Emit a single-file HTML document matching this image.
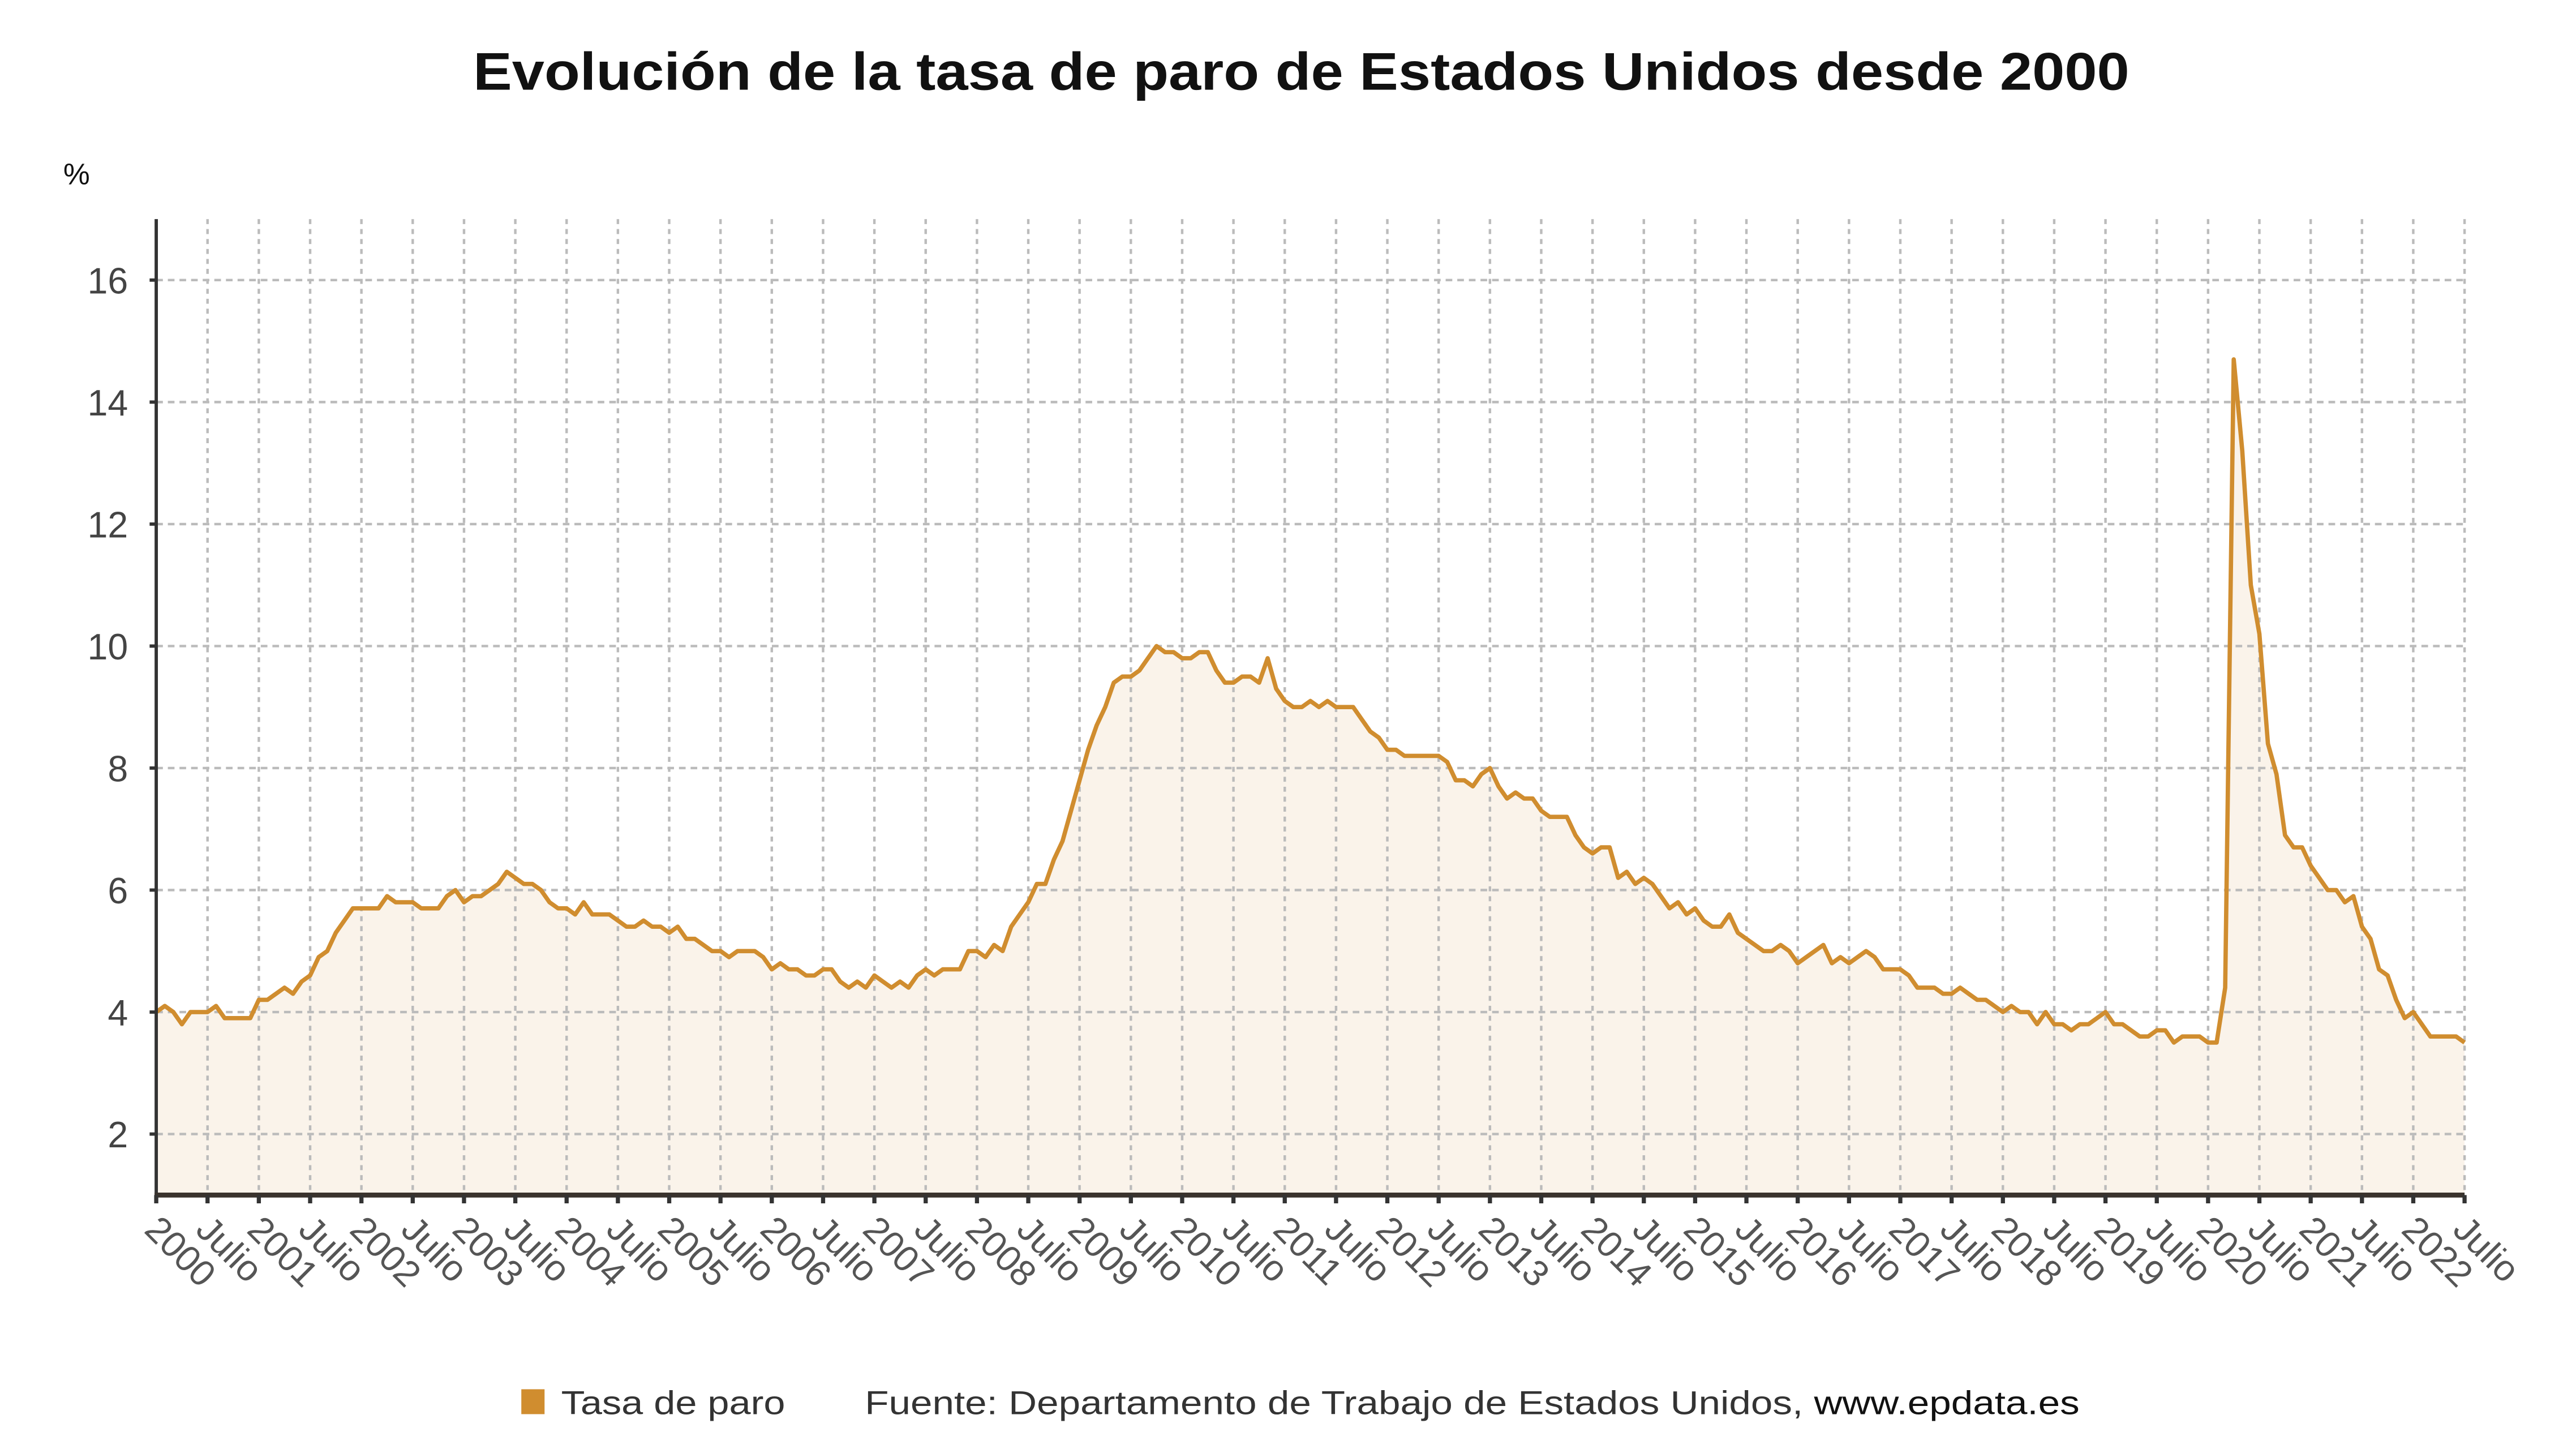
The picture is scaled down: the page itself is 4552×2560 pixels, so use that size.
<!DOCTYPE html>
<html><head><meta charset="utf-8"><style>
html,body{margin:0;padding:0;background:#fff;}
svg{display:block;}
</style></head><body>
<svg id="c" width="4552" height="2560" viewBox="0 0 1552 873" xmlns="http://www.w3.org/2000/svg" font-family="Liberation Sans, DejaVu Sans, sans-serif">
<rect width="1552" height="873" fill="#fff"/>
<text x="784" y="54" text-anchor="middle" font-size="32" font-weight="bold" fill="#111" textLength="998" lengthAdjust="spacingAndGlyphs">Evolución de la tasa de paro de Estados Unidos desde 2000</text>
<text x="38" y="111" font-size="18" fill="#111">%</text>
<g id="plot"></g>
<rect x="314" y="837" width="14" height="15" fill="#d08d2f"/>
<text x="338" y="852" font-size="20" fill="#333" textLength="135" lengthAdjust="spacingAndGlyphs">Tasa de paro</text>
<text x="521" y="852" font-size="20" fill="#333" textLength="732" lengthAdjust="spacingAndGlyphs">Fuente: Departamento de Trabajo de Estados Unidos, <tspan fill="#111">www.epdata.es</tspan></text>
</svg>
<script>
var d=[4.0,4.1,4.0,3.8,4.0,4.0,4.0,4.1,3.9,3.9,3.9,3.9,
4.2,4.2,4.3,4.4,4.3,4.5,4.6,4.9,5.0,5.3,5.5,5.7,
5.7,5.7,5.7,5.9,5.8,5.8,5.8,5.7,5.7,5.7,5.9,6.0,
5.8,5.9,5.9,6.0,6.1,6.3,6.2,6.1,6.1,6.0,5.8,5.7,
5.7,5.6,5.8,5.6,5.6,5.6,5.5,5.4,5.4,5.5,5.4,5.4,
5.3,5.4,5.2,5.2,5.1,5.0,5.0,4.9,5.0,5.0,5.0,4.9,
4.7,4.8,4.7,4.7,4.6,4.6,4.7,4.7,4.5,4.4,4.5,4.4,
4.6,4.5,4.4,4.5,4.4,4.6,4.7,4.6,4.7,4.7,4.7,5.0,
5.0,4.9,5.1,5.0,5.4,5.6,5.8,6.1,6.1,6.5,6.8,7.3,
7.8,8.3,8.7,9.0,9.4,9.5,9.5,9.6,9.8,10.0,9.9,9.9,
9.8,9.8,9.9,9.9,9.6,9.4,9.4,9.5,9.5,9.4,9.8,9.3,
9.1,9.0,9.0,9.1,9.0,9.1,9.0,9.0,9.0,8.8,8.6,8.5,
8.3,8.3,8.2,8.2,8.2,8.2,8.2,8.1,7.8,7.8,7.7,7.9,
8.0,7.7,7.5,7.6,7.5,7.5,7.3,7.2,7.2,7.2,6.9,6.7,
6.6,6.7,6.7,6.2,6.3,6.1,6.2,6.1,5.9,5.7,5.8,5.6,
5.7,5.5,5.4,5.4,5.6,5.3,5.2,5.1,5.0,5.0,5.1,5.0,
4.8,4.9,5.0,5.1,4.8,4.9,4.8,4.9,5.0,4.9,4.7,4.7,
4.7,4.6,4.4,4.4,4.4,4.3,4.3,4.4,4.3,4.2,4.2,4.1,
4.0,4.1,4.0,4.0,3.8,4.0,3.8,3.8,3.7,3.8,3.8,3.9,
4.0,3.8,3.8,3.7,3.6,3.6,3.7,3.7,3.5,3.6,3.6,3.6,
3.5,3.5,4.4,14.7,13.2,11.0,10.2,8.4,7.9,6.9,6.7,6.7,
6.4,6.2,6.0,6.0,5.8,5.9,5.4,5.2,4.7,4.6,4.2,3.9,
4.0,3.8,3.6,3.6,3.6,3.6,3.5];
var L=94,R=1485,T=132,B=720,pm=(R-L)/270;
function X(i){return L+i*pm;}
function Y(v){return B-(v-1)*(B-T)/16;}
var s='';
var pts=d.map(function(v,i){return X(i).toFixed(2)+','+Y(v).toFixed(2);});
s+='<polygon points="'+L+','+B+' '+pts.join(' ')+' '+X(d.length-1).toFixed(2)+','+B+'" fill="#faf3ea"/>';
for(var k=0;k<=45;k++){var x=L+k*6*pm;s+='<line x1="'+x+'" y1="'+T+'" x2="'+x+'" y2="'+B+'" stroke="#bbb" stroke-width="1.5" stroke-dasharray="3,3"/>';}
for(var v=2;v<=16;v+=2){var y=Y(v);s+='<line x1="'+L+'" y1="'+y+'" x2="'+R+'" y2="'+y+'" stroke="#bbb" stroke-width="1.5" stroke-dasharray="4,3"/>';
s+='<text x="77" y="'+(y+8)+'" text-anchor="end" font-size="22" fill="#444">'+v+'</text>';
s+='<line x1="90" y1="'+y+'" x2="94" y2="'+y+'" stroke="#333" stroke-width="2"/>';}
s+='<polyline points="'+pts.join(' ')+'" fill="none" stroke="#d08d2f" stroke-width="2.6" stroke-linejoin="round"/>';
s+='<line x1="'+L+'" y1="'+T+'" x2="'+L+'" y2="'+(B+1)+'" stroke="#333" stroke-width="2"/>';
s+='<line x1="'+(L-1)+'" y1="'+B+'" x2="'+R+'" y2="'+B+'" stroke="#3a332d" stroke-width="3"/>';
for(var k=0;k<=45;k++){var x=L+k*6*pm;s+='<line x1="'+x+'" y1="'+B+'" x2="'+x+'" y2="'+(B+5)+'" stroke="#333" stroke-width="2.5"/>';
var lab=(k%2==0)?(2000+k/2):'Julio';
s+='<text x="'+(x-8)+'" y="'+(B+22)+'" font-size="22" fill="#555" transform="rotate(45 '+(x-8)+' '+(B+22)+')">'+lab+'</text>';}
document.getElementById('plot').innerHTML=s;
</script>
</body></html>
